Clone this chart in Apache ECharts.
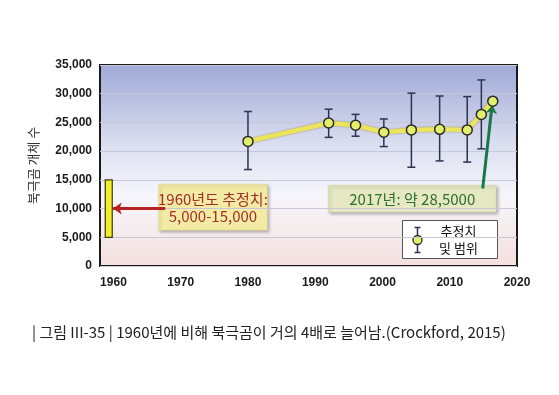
<!DOCTYPE html>
<html>
<head>
<meta charset="utf-8">
<script src="https://cdn.jsdelivr.net/npm/echarts@6/dist/echarts.min.js"></script>
<style>
html,body{margin:0;padding:0;background:#fff;}
#c{width:559px;height:395px;}
</style>
</head>
<body>
<div id="c"></div>
<script>
// ---- data ----
var years    = [1980, 1992, 1996, 2000.2, 2004.3, 2008.5, 2012.6, 2014.7, 2016.4];
var estimate = [21700, 24900, 24500, 23300, 23700, 23800, 23700, 26400, 28700];
var lows     = [16800, 22400, 22600, 20800, 17200, 18300, 18100, 20400, 28700];
var highs    = [26900, 27300, 26400, 25600, 30100, 29600, 29500, 32400, 28700];
var est1960  = {year: 1959.3, low: 5000, high: 15000};
var xTicks   = [1960, 1970, 1980, 1990, 2000, 2010, 2020];
var yTicks   = [0, 5000, 10000, 15000, 20000, 25000, 30000, 35000];
var redArrow   = [[1967.7, 10000], [1959.9, 10000]];
var greenArrow = [[2014.9, 13500], [2016.3, 28100]];
var texts = {
  yName: '북극곰 개체 수',
  box1a: '1960년도 추정치:',
  box1b: '5,000-15,000',
  box2: '2017년: 약 28,5000',
  leg1: '추정치',
  leg2: '및 범위',
  caption: '| 그림 III-35 | 1960년에 비해 북극곰이 거의 4배로 늘어남.(Crockford, 2015)'
};

var lineData = years.map(function (y, i) { return [y, estimate[i]]; });
var errData = [];
years.forEach(function (y, i) { if (highs[i] > lows[i]) errData.push([y, lows[i], highs[i]]); });

var KR = '"Noto Sans CJK KR", "Noto Sans", sans-serif';
var chart = echarts.init(document.getElementById('c'), null, {renderer: 'canvas'});

chart.setOption({
  animation: false,
  backgroundColor: '#ffffff',
  grid: {
    left: 100, right: 42, top: 65, bottom: 129,
    show: true,
    borderColor: '#1a1a1a', borderWidth: 2,
    backgroundColor: new echarts.graphic.LinearGradient(0, 0, 0, 1, [
      {offset: 0, color: '#a0a8d7'},
      {offset: 0.4, color: '#dcdff0'},
      {offset: 0.65, color: '#f6f6fb'},
      {offset: 1, color: '#f5e0de'}
    ])
  },
  xAxis: {
    type: 'value', min: 1958, max: 2020,
    axisLine: {show: false}, axisTick: {show: false}, splitLine: {show: false},
    axisLabel: {
      customValues: xTicks, margin: 11,
      formatter: function (v) { return String(v); },
      fontFamily: '"Liberation Sans", Arial, sans-serif', fontWeight: 'bold', fontSize: 12, color: '#1a1a1a',
      showMinLabel: true, showMaxLabel: true
    }
  },
  yAxis: {
    type: 'value', min: 0, max: 35000, interval: 5000,
    name: texts.yName, nameLocation: 'middle', nameGap: 60, nameRotate: 90,
    nameTextStyle: {fontFamily: KR, fontSize: 13, color: '#333'},
    axisLine: {show: false}, axisTick: {show: false},
    splitLine: {lineStyle: {color: '#c6c8d8', width: 1}},
    axisLabel: {
      margin: 8,
      formatter: function (v) { return v.toLocaleString('en-US'); },
      fontFamily: '"Liberation Sans", Arial, sans-serif', fontWeight: 'bold', fontSize: 12, color: '#1a1a1a'
    }
  },
  series: [
    {
      type: 'custom', name: '1960',
      data: [[est1960.year, est1960.low, est1960.high]],
      renderItem: function (params, api) {
        var a = api.coord([api.value(0), api.value(1)]);
        var b = api.coord([api.value(0), api.value(2)]);
        return {type: 'rect', shape: {x: a[0] - 3.5, y: b[1], width: 7, height: a[1] - b[1]},
          style: {fill: '#f2ee2a', stroke: '#3a3a10', lineWidth: 1.2}};
      },
      z: 3
    },
    {
      type: 'line', name: 'arrowRed', data: [], silent: true,
      markLine: {
        silent: true, symbol: ['none', 'arrow'], symbolSize: [9, 9],
        lineStyle: {color: '#b52222', width: 3, type: 'solid'},
        label: {show: false},
        data: [[{coord: redArrow[0]}, {coord: redArrow[1]}]]
      },
      z: 4
    },
    {
      type: 'custom', name: 'err',
      data: errData,
      renderItem: function (params, api) {
        var lo = api.coord([api.value(0), api.value(1)]);
        var hi = api.coord([api.value(0), api.value(2)]);
        var w = 4;
        var st = {stroke: '#2b3350', lineWidth: 1.5};
        return {type: 'group', children: [
          {type: 'line', shape: {x1: lo[0], y1: lo[1], x2: hi[0], y2: hi[1]}, style: st},
          {type: 'line', shape: {x1: lo[0] - w, y1: lo[1], x2: lo[0] + w, y2: lo[1]}, style: st},
          {type: 'line', shape: {x1: hi[0] - w, y1: hi[1], x2: hi[0] + w, y2: hi[1]}, style: st}
        ]};
      },
      z: 5
    },
    {
      type: 'line', name: 'estimate', data: lineData,
      symbol: 'circle', symbolSize: 10,
      lineStyle: {color: '#ece45c', width: 4.5, shadowColor: 'rgba(110,100,0,0.6)', shadowBlur: 2},
      itemStyle: {color: '#e3ef6a', borderColor: '#2a2a2a', borderWidth: 1.5},
      z: 6
    },
    {
      type: 'line', name: 'arrowGreen', data: [], silent: true,
      markLine: {
        silent: true, symbol: ['none', 'arrow'], symbolSize: [9, 9],
        lineStyle: {color: '#17794a', width: 3, type: 'solid'},
        label: {show: false},
        data: [[{coord: greenArrow[0]}, {coord: greenArrow[1]}]]
      },
      z: 7
    }
  ],
  graphic: [
    {
      type: 'group', left: 158, top: 184, z: 100,
      children: [
        {type: 'rect', shape: {x: 0, y: 0, width: 109, height: 46},
          style: {fill: '#f3eba4', stroke: '#d8d08a', lineWidth: 0.5, shadowColor: 'rgba(0,0,0,0.35)', shadowBlur: 3, shadowOffsetX: 2, shadowOffsetY: 2}},
        {type: 'text', x: 54.5, y: 15, style: {text: texts.box1a, font: '15px ' + KR, fill: '#a2302a', align: 'center', verticalAlign: 'middle'}},
        {type: 'text', x: 54.5, y: 32, style: {text: texts.box1b, font: '15px ' + KR, fill: '#a2302a', align: 'center', verticalAlign: 'middle'}}
      ]
    },
    {
      type: 'group', left: 328, top: 185, z: 100,
      children: [
        {type: 'rect', shape: {x: 0, y: 0, width: 168, height: 27},
          style: {fill: '#e5e8c2', stroke: '#c8cc9a', lineWidth: 0.5, shadowColor: 'rgba(0,0,0,0.35)', shadowBlur: 3, shadowOffsetX: 2, shadowOffsetY: 2}},
        {type: 'text', x: 84, y: 14, style: {text: texts.box2, font: '15px ' + KR, fill: '#2f6f30', align: 'center', verticalAlign: 'middle'}}
      ]
    },
    {
      type: 'group', left: 402, top: 220, z: 100,
      children: [
        {type: 'rect', shape: {x: 0, y: 0, width: 95, height: 38}, style: {fill: '#ffffff', stroke: '#555', lineWidth: 1}},
        {type: 'line', shape: {x1: 15, y1: 7, x2: 15, y2: 32}, style: {stroke: '#2b3350', lineWidth: 1.5}},
        {type: 'line', shape: {x1: 12, y1: 7, x2: 18, y2: 7}, style: {stroke: '#2b3350', lineWidth: 1.5}},
        {type: 'line', shape: {x1: 12, y1: 32, x2: 18, y2: 32}, style: {stroke: '#2b3350', lineWidth: 1.5}},
        {type: 'circle', shape: {cx: 15, cy: 19.5, r: 4.5}, style: {fill: '#e3ef6a', stroke: '#2a2a2a', lineWidth: 1.3}},
        {type: 'text', x: 56, y: 11, style: {text: texts.leg1, font: '13px ' + KR, fill: '#111', align: 'center', verticalAlign: 'middle'}},
        {type: 'text', x: 56, y: 28, style: {text: texts.leg2, font: '13px ' + KR, fill: '#111', align: 'center', verticalAlign: 'middle'}}
      ]
    },
    {
      type: 'text', left: 32, top: 325, z: 100,
      style: {text: texts.caption, font: '15px ' + KR, fill: '#222'}
    }
  ]
});
</script>
</body>
</html>
